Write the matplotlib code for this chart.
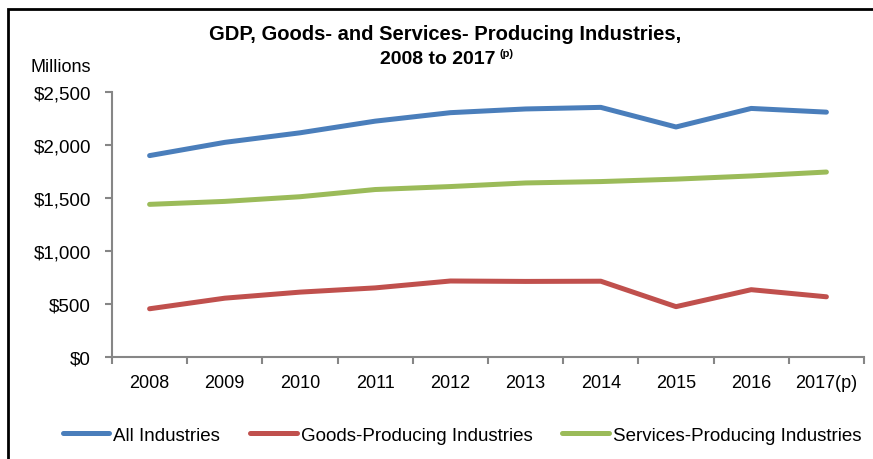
import matplotlib
matplotlib.use("Agg")
import matplotlib.pyplot as plt
from matplotlib.patches import Rectangle
from matplotlib.ticker import FuncFormatter

YEARS = ["2008", "2009", "2010", "2011", "2012", "2013", "2014", "2015", "2016", "2017(p)"]
ALL_INDUSTRIES = [1900, 2025, 2115, 2225, 2305, 2340, 2355, 2170, 2345, 2310]
GOODS = [455, 555, 612, 652, 717, 713, 715, 475, 635, 568]
SERVICES = [1440, 1468, 1512, 1580, 1608, 1642, 1655, 1678, 1708, 1745]

SERIES = [
    ("All Industries", ALL_INDUSTRIES, "#4A7EBB"),
    ("Goods-Producing Industries", GOODS, "#C0504D"),
    ("Services-Producing Industries", SERVICES, "#9BBB59"),
]

plt.rcParams["font.family"] = ["Liberation Sans", "DejaVu Sans"]

fig = plt.figure(figsize=(8.73, 4.60), dpi=100)
fig.patch.set_facecolor("white")

# outer frame (only top/left are visible in the source crop)
fig.add_artist(Rectangle((8 / 873, -0.1), 1.2, 1 - 10 / 460 + 0.1,
                         transform=fig.transFigure, fill=False,
                         edgecolor="black", linewidth=2.0))

ax = fig.add_axes([112 / 873, 1 - 358 / 460, (864 - 112) / 873, (358 - 93) / 460])

x = list(range(len(YEARS)))
for label, values, color in SERIES:
    ax.plot(x, values, color=color, linewidth=3.6, solid_capstyle="round",
            solid_joinstyle="round", label=label)

ax.set_xlim(-0.5, len(YEARS) - 0.5)
ax.set_ylim(0, 2500)
ax.set_yticks([0, 500, 1000, 1500, 2000, 2500])
ax.yaxis.set_major_formatter(FuncFormatter(lambda v, _: f"${v:,.0f}"))
ax.set_xticks(x)
ax.set_xticklabels(YEARS)
ax.set_xticks([i - 0.5 for i in range(len(YEARS) + 1)], minor=True)
ax.tick_params(axis="x", which="major", length=0, pad=12, labelsize=13)
ax.tick_params(axis="x", which="minor", length=5, width=1.5, color="#868686")
ax.tick_params(axis="y", length=5, width=1.5, color="#868686", labelsize=13.5, pad=10)

for side in ("top", "right"):
    ax.spines[side].set_visible(False)
for side in ("left", "bottom"):
    ax.spines[side].set_color("#868686")
    ax.spines[side].set_linewidth(1.5)

fig.text(30 / 873, 1 - 68 / 460, "Millions", fontsize=13, va="center", ha="left")

fig.text(445 / 873, 1 - 34 / 460, "GDP, Goods- and Services- Producing Industries,",
         fontsize=14.5, fontweight="bold", ha="center", va="center")
fig.text(496 / 873, 1 - 60 / 460, "2008 to 2017",
         fontsize=14, fontweight="bold", ha="right", va="center")
fig.text(500 / 873, 1 - 54 / 460, "(p)",
         fontsize=8, fontweight="bold", ha="left", va="center")

fig.legend(loc="center", bbox_to_anchor=(462 / 873, 1 - 436 / 460), ncol=3,
           frameon=False, fontsize=13.5, handlelength=2.5, handletextpad=0.2,
           columnspacing=1.6)

fig.savefig("out.png", dpi=100, facecolor="white")
